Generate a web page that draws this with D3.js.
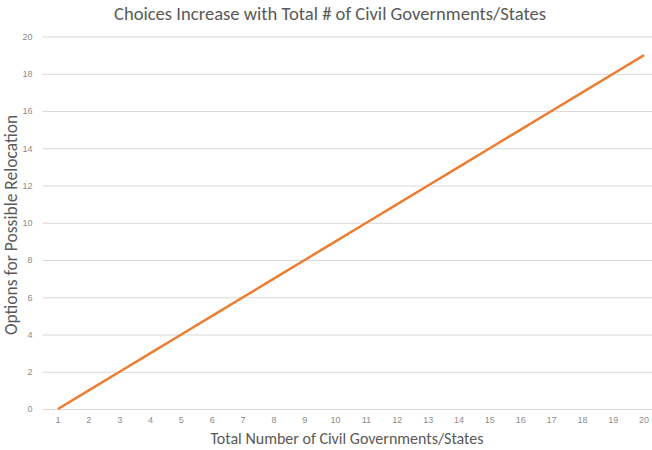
<!DOCTYPE html>
<html><head><meta charset="utf-8">
<script src="https://cdn.jsdelivr.net/npm/d3@7"></script>
<style>
html,body{margin:0;padding:0;background:#fff;}
svg{display:block;font-family:Carlito,Lato,"Open Sans",sans-serif;}
</style></head>
<body><svg id="c" width="652" height="450"></svg>
<script>
const categories = [1,2,3,4,5,6,7,8,9,10,11,12,13,14,15,16,17,18,19,20];
const options = [0,1,2,3,4,5,6,7,8,9,10,11,12,13,14,15,16,17,18,19];
const yTicks = [0,2,4,6,8,10,12,14,16,18,20];
const title = "Choices Increase with Total # of Civil Governments/States";
const xTitle = "Total Number of Civil Governments/States";
const yTitle = "Options for Possible Relocation";

const svg = d3.select("#c");
const x = d3.scaleBand().domain(categories).range([42.5, 659.5]).padding(0);
const y = d3.scaleLinear().domain([0,20]).range([409, 36.5]);

const yAxis = d3.axisLeft(y).tickValues(yTicks).tickSize(-(x.range()[1]-x.range()[0])).tickPadding(10);
const gy = svg.append("g").attr("transform",`translate(${x.range()[0]},0)`).call(yAxis);
gy.select(".domain").remove();
gy.selectAll(".tick line").attr("stroke","#d9d9d9").attr("stroke-width",1);
gy.selectAll(".tick text").attr("fill","#8c8c8c").attr("font-size",9).attr("font-family","inherit");

const xAxis = d3.axisBottom(x).tickSize(0).tickPadding(8);
const gx = svg.append("g").attr("transform",`translate(0,${y(0)})`).call(xAxis);
gx.select(".domain").remove();
gx.selectAll(".tick text").attr("fill","#8c8c8c").attr("font-size",9).attr("font-family","inherit");

const line = d3.line().x((d,i)=>x(categories[i])+x.bandwidth()/2).y(d=>y(d));
svg.append("path").datum(options).attr("d",line).attr("fill","none")
  .attr("stroke","#ed7d31").attr("stroke-width",2.5).attr("stroke-linejoin","round");

svg.append("text").attr("x",330).attr("y",20).attr("text-anchor","middle")
  .attr("fill","#595959").attr("font-size",18.6).text(title);
svg.append("text").attr("x",347).attr("y",444).attr("text-anchor","middle")
  .attr("fill","#595959").attr("font-size",16).text(xTitle);
svg.append("text").attr("transform","translate(17,225) rotate(-90)").attr("text-anchor","middle")
  .attr("fill","#595959").attr("font-size",17.5).text(yTitle);
</script></body></html>
